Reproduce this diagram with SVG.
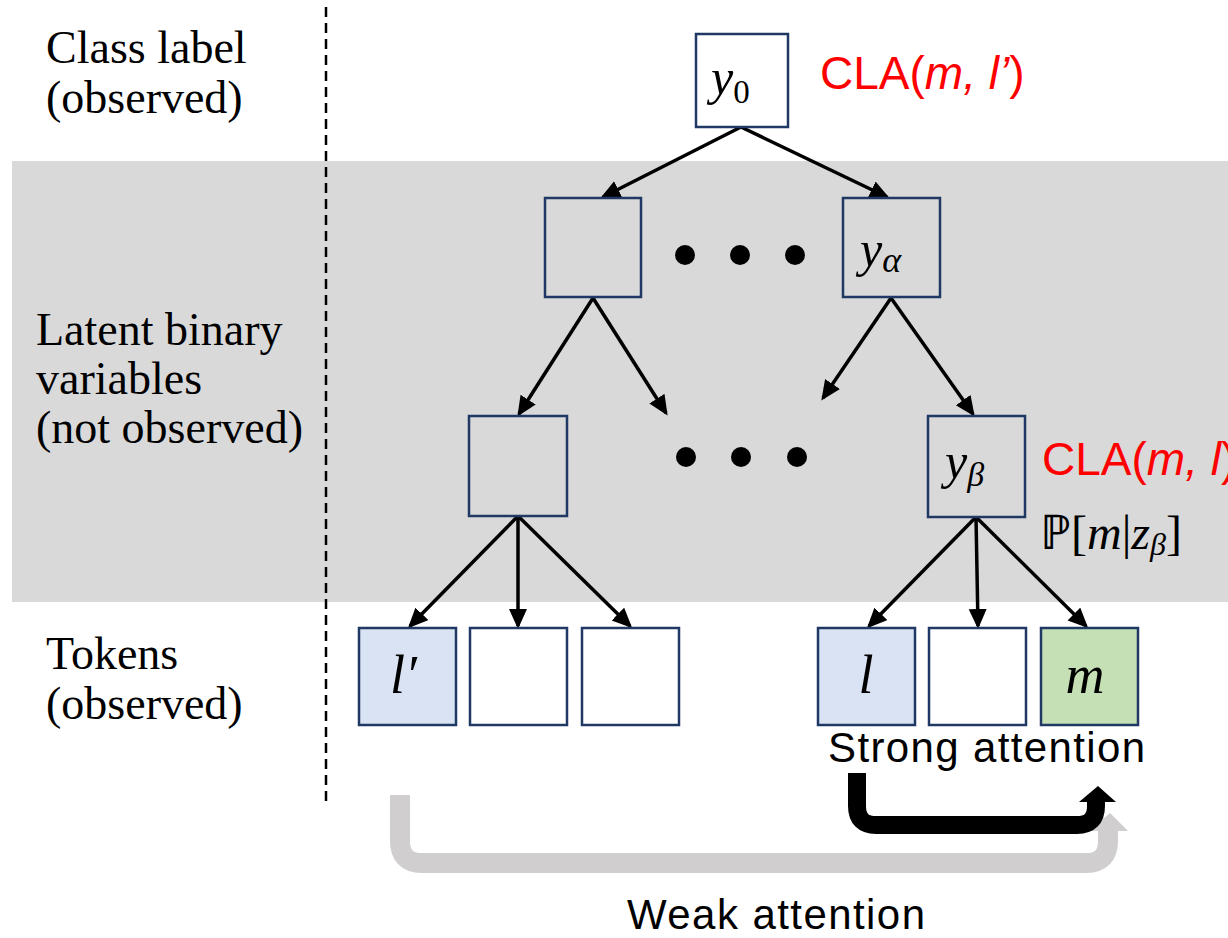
<svg xmlns="http://www.w3.org/2000/svg" width="1228" height="938" viewBox="0 0 1228 938">
  <style>
    .band { fill: #d9d9d9; }
    .node { stroke: #1f3864; stroke-width: 2.5; }
    .plain { fill: #ffffff; }
    .latent { fill: none; }
    .tokA { fill: #dae3f3; }
    .tokM { fill: #c5e0b4; }
    .edge { stroke: #000; stroke-width: 3.5; fill: none; marker-end: url(#head); }
    .side { font-family: "Liberation Serif", "Times New Roman", serif; font-size: 46px; fill: #000; }
    .math { font-family: "Liberation Serif", "Times New Roman", serif; fill: #000; }
    .cla { font-family: "Liberation Sans", Arial, sans-serif; font-size: 46px; fill: #ff0000; }
    .caption { font-family: "Liberation Sans", Arial, sans-serif; font-size: 42px; fill: #000; }
    .dot { fill: #000; }
  </style>
  <defs>
    <marker id="head" markerUnits="userSpaceOnUse" markerWidth="22" markerHeight="20" refX="17" refY="9" orient="auto">
      <path d="M0,0 L20,9 L0,18 z" fill="#000"/>
    </marker>
  </defs>

  <!-- latent layer background -->
  <rect class="band" x="12" y="161" width="1216" height="441"/>

  <!-- row separator -->
  <line x1="326" y1="7" x2="326" y2="802" stroke="#000" stroke-width="2.5" stroke-dasharray="10,6"/>

  <!-- row labels -->
  <g id="row-labels">
    <text class="side" x="46" y="63">Class label</text>
    <text class="side" x="46" y="113">(observed)</text>
    <text class="side" x="36" y="345">Latent binary</text>
    <text class="side" x="36" y="394">variables</text>
    <text class="side" x="36" y="443">(not observed)</text>
    <text class="side" x="46" y="669">Tokens</text>
    <text class="side" x="46" y="719">(observed)</text>
  </g>

  <!-- connectors -->
  <g id="connectors">
    <line class="edge" x1="741" y1="127" x2="603" y2="197"/>
    <line class="edge" x1="741" y1="127" x2="887" y2="197"/>
    <line class="edge" x1="593" y1="298" x2="519" y2="414"/>
    <line class="edge" x1="593" y1="298" x2="666" y2="413"/>
    <line class="edge" x1="891" y1="298" x2="823" y2="398"/>
    <line class="edge" x1="891" y1="298" x2="973" y2="414"/>
    <line class="edge" x1="518" y1="516" x2="410" y2="626"/>
    <line class="edge" x1="518" y1="516" x2="518" y2="626"/>
    <line class="edge" x1="518" y1="516" x2="630" y2="626"/>
    <line class="edge" x1="976" y1="517" x2="869" y2="626"/>
    <line class="edge" x1="976" y1="517" x2="978" y2="626"/>
    <line class="edge" x1="976" y1="517" x2="1086" y2="626"/>
  </g>

  <!-- root -->
  <g id="y0">
    <rect class="node plain" x="696" y="34" width="92" height="93"/>
    <text class="math" x="711" y="94" font-size="50"><tspan font-style="italic">y</tspan><tspan font-size="33" dy="9">0</tspan></text>
  </g>
  <text class="cla" x="820" y="89">CLA(<tspan font-style="italic">m, l’</tspan>)</text>

  <!-- first latent level -->
  <g id="latent-1a">
    <rect class="node latent" x="545" y="198" width="96" height="99"/>
  </g>
  <g id="dots-1">
    <circle class="dot" cx="685" cy="255" r="10"/>
    <circle class="dot" cx="740" cy="255" r="10"/>
    <circle class="dot" cx="795" cy="255" r="10"/>
  </g>
  <g id="y-alpha">
    <rect class="node latent" x="843" y="198" width="97" height="99"/>
    <text class="math" x="860" y="266" font-size="50"><tspan font-style="italic">y</tspan><tspan font-style="italic" font-size="36" dy="6">α</tspan></text>
  </g>

  <!-- second latent level -->
  <g id="latent-2a">
    <rect class="node latent" x="469" y="416" width="98" height="100"/>
  </g>
  <g id="dots-2">
    <circle class="dot" cx="686" cy="457" r="10"/>
    <circle class="dot" cx="741" cy="457" r="10"/>
    <circle class="dot" cx="797" cy="457" r="10"/>
  </g>
  <g id="y-beta">
    <rect class="node latent" x="928" y="416" width="97" height="101"/>
    <text class="math" x="945" y="478" font-size="50"><tspan font-style="italic">y</tspan><tspan font-style="italic" font-size="34" dy="8">β</tspan></text>
  </g>
  <text class="cla" x="1042" y="475">CLA(<tspan font-style="italic">m, l</tspan>)</text>
  <text class="math" x="1040" y="549" font-size="48">ℙ[<tspan font-style="italic">m</tspan>|<tspan font-style="italic">z</tspan><tspan font-style="italic" font-size="32" dy="6">β</tspan><tspan dy="-6">]</tspan></text>

  <!-- tokens -->
  <g id="tok-l-prime">
    <rect class="node tokA" x="359" y="628" width="97" height="97"/>
    <text class="math" x="390" y="693" font-size="54" font-style="italic">l′</text>
  </g>
  <g id="tok-2">
    <rect class="node plain" x="470" y="628" width="97" height="97"/>
  </g>
  <g id="tok-3">
    <rect class="node plain" x="582" y="628" width="97" height="97"/>
  </g>
  <g id="tok-l">
    <rect class="node tokA" x="818" y="628" width="97" height="97"/>
    <text class="math" x="866" y="693" font-size="54" font-style="italic" text-anchor="middle">l</text>
  </g>
  <g id="tok-5">
    <rect class="node plain" x="929" y="628" width="97" height="97"/>
  </g>
  <g id="tok-m">
    <rect class="node tokM" x="1041" y="628" width="97" height="97"/>
    <text class="math" x="1085" y="693" font-size="54" font-style="italic" text-anchor="middle">m</text>
  </g>

  <!-- attention arrows -->
  <g id="weak-attention">
    <path d="M400,795 V841 Q400,863 422,863 H1086 Q1108,863 1108,841 V828" fill="none" stroke="#d0cece" stroke-width="20"/>
    <polygon points="1110,813 1128,831 1089,831" fill="#d0cece"/>
    <text class="caption" x="627" y="929" textLength="298">Weak attention</text>
  </g>
  <g id="strong-attention">
    <path d="M857,773 V806 Q857,825 876,825 H1077 Q1096,825 1096,806 V799" fill="none" stroke="#000" stroke-width="18"/>
    <polygon points="1098,786 1116,802 1079,802" fill="#000"/>
    <text class="caption" x="828" y="762" textLength="317">Strong attention</text>
  </g>
</svg>
